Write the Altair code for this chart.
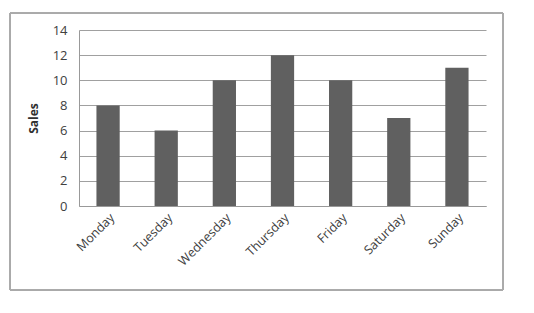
import altair as alt
import pandas as pd

days = ["Monday", "Tuesday", "Wednesday", "Thursday", "Friday", "Saturday", "Sunday"]
sales = [8, 6, 10, 12, 10, 7, 11]

df = pd.DataFrame({"Day": days, "Sales": sales})

FONT = "Open Sans"

bars = alt.Chart(df).mark_bar(color="#606060").encode(
    x=alt.X(
        "Day:N",
        sort=days,
        title=None,
        scale=alt.Scale(paddingInner=0.6, paddingOuter=0.3),
        axis=alt.Axis(
            labelAngle=-45,
            labelAlign="right",
            labelBaseline="top",
            labelFont=FONT,
            labelFontSize=12.5,
            labelColor="#404040",
            labelPadding=5,
            ticks=False,
            domainColor="#999999",
            grid=False,
        ),
    ),
    y=alt.Y(
        "Sales:Q",
        title="Sales",
        scale=alt.Scale(domain=[0, 14], nice=False),
        axis=alt.Axis(
            values=list(range(0, 15, 2)),
            labelFont=FONT,
            labelFontSize=13,
            labelColor="#404040",
            labelPadding=12,
            ticks=False,
            domainColor="#999999",
            gridColor="#a0a0a0",
            gridWidth=1,
            titleFont=FONT,
            titleFontSize=12,
            titleFontWeight="bold",
            titleColor="#303030",
            titlePadding=12,
        ),
    ),
)

# Frame around the whole chart
frame = alt.Chart(df).mark_rect(
    fill=None, stroke="#aaaaaa", strokeWidth=1, clip=False
).encode(
    x=alt.value(-69),
    x2=alt.value(424),
    y=alt.value(-17),
    y2=alt.value(260),
)

chart = alt.layer(frame, bars).properties(
    width=407,
    height=176,
    padding={"left": 79, "top": 30, "right": 48, "bottom": 107},
    autosize=alt.AutoSizeParams(type="none"),
).configure_view(stroke=None)

chart.save("out.html", embed_options={"renderer": "svg", "actions": False})
